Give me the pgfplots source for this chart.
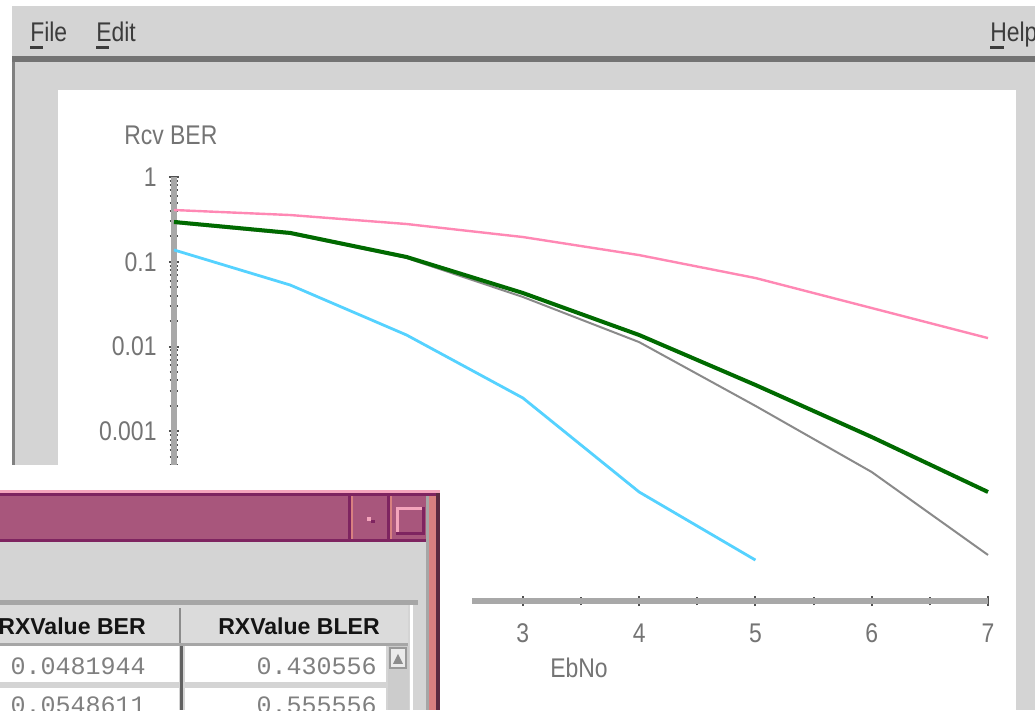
\documentclass[border=0pt]{standalone}
\usepackage{fontspec}
\usepackage{pgfplots}
\pgfplotsset{compat=1.18}
\setmainfont{Liberation Sans}
\newfontfamily\guifont[FakeStretch=0.85]{Liberation Sans}
\newfontfamily\cellfont{Liberation Mono}

\definecolor{winGray}{HTML}{D4D4D4}
\definecolor{txtGray}{HTML}{747474}
\definecolor{menuTxt}{HTML}{3C3C3C}
\definecolor{axGray}{HTML}{A8A8A8}
\definecolor{tickGray}{HTML}{505050}
\definecolor{cPink}{HTML}{FF88B4}
\definecolor{cGreen}{HTML}{006A00}
\definecolor{cGrey}{HTML}{8A8A8A}
\definecolor{cCyan}{HTML}{55D2FF}
\definecolor{titleBar}{HTML}{A8567C}
\definecolor{titleDark}{HTML}{7E2460}
\definecolor{titleLight}{HTML}{F4A4BC}
\definecolor{frameSalmon}{HTML}{D88080}
\definecolor{frameDark}{HTML}{5A2A40}

\newcommand\guisize{\guifont\fontsize{19.2}{22}\selectfont}

\begin{document}
\begin{tikzpicture}
  % main window behind the chart, in screen pixels
  \begin{scope}[x=0.25mm, y=-0.25mm, yshift=177.5mm]
    \fill[white] (0,0) rectangle (1035,710);
    \fill[winGray] (12,6) rectangle (1035,710);
    \fill[black!55] (12,56) rectangle (1035,62);
    \fill[black!50] (12,62) rectangle (15,465);
    \node[anchor=base west, font=\guisize, text=menuTxt, inner sep=0pt] at (30,42) {File};
    \node[anchor=base west, font=\guisize, text=menuTxt, inner sep=0pt] at (96,42) {Edit};
    \node[anchor=base west, font=\guisize, text=menuTxt, inner sep=0pt] at (990,42) {Help};
    \fill[menuTxt] (30,46) rectangle (43,49);
    \fill[menuTxt] (96,46) rectangle (109,49);
    \fill[menuTxt] (990,46) rectangle (1004,49);
    \fill[white] (58,90) rectangle (1016,710);
    \node[anchor=base west, font=\guisize, text=txtGray, inner sep=0pt] at (124,145) {Rcv BER};
    \node[anchor=base west, font=\guisize, text=txtGray, inner sep=0pt] at (550,678) {EbNo};
  \end{scope}

  \begin{axis}[
    at={(43.5mm,27.25mm)}, anchor=south west,
    scale only axis, width=203.5mm, height=106mm,
    xmin=0, xmax=7, ymin=1e-5, ymax=1, ymode=log,
    axis lines=left,
    axis line style={-, line width=1.3mm, axGray},
    xtick={0,1,...,7}, minor xtick={0.5,1.5,...,6.5},
    xticklabels={,,,3,4,5,6,7},
    ytick={1e-5,1e-4,1e-3,1e-2,1e-1,1},
    yticklabels={,,0.001,0.01,0.1,1},
    minor ytick={2e-5,3e-5,4e-5,5e-5,6e-5,7e-5,8e-5,9e-5,
                 2e-4,3e-4,4e-4,5e-4,6e-4,7e-4,8e-4,9e-4,
                 2e-3,3e-3,4e-3,5e-3,6e-3,7e-3,8e-3,9e-3,
                 0.02,0.03,0.04,0.05,0.06,0.07,0.08,0.09,
                 0.2,0.3,0.4,0.5,0.6,0.7,0.8,0.9},
    tick align=center,
    major tick length=2.6mm, minor tick length=2.2mm,
    tick style={tickGray, line width=0.5mm},
    /pgf/number format/assume math mode=true,
    ticklabel style={font=\guisize, text=txtGray, inner sep=0pt},
    xticklabel style={anchor=center, yshift=-6.75mm},
    yticklabel style={anchor=east, xshift=-3mm},
    clip=false,
  ]
    \addplot[cGrey, line width=0.5mm] coordinates {
      (0,0.287) (1,0.213) (2,0.111) (3,0.0385) (4,0.0113) (5,0.0020) (6,0.000332) (7,3.49e-5)};
    \addplot[cGreen, line width=1mm] coordinates {
      (0,0.295) (1,0.219) (2,0.114) (3,0.0429) (4,0.0137) (5,0.00353) (6,0.000859) (7,0.000193)};
    \addplot[cPink, line width=0.6mm] coordinates {
      (0,0.408) (1,0.356) (2,0.279) (3,0.196) (4,0.120) (5,0.0644) (6,0.0285) (7,0.0126)};
    \addplot[cCyan, line width=0.7mm] coordinates {
      (0,0.138) (1,0.0532) (2,0.0137) (3,0.00248) (4,0.000193) (5,3.04e-5)};
  \end{axis}

  % dialog window lying over the lower left part
  \begin{scope}[x=0.25mm, y=-0.25mm, yshift=177.5mm]
    \fill[white] (0,465) rectangle (472,710);
    % title bar
    \fill[titleLight] (0,490) rectangle (440,493);
    \fill[titleDark] (0,493) rectangle (440,496);
    \fill[titleBar] (0,496) rectangle (436,539);
    \fill[titleDark] (0,539) rectangle (436,542);
    \fill[titleDark] (348,496) rectangle (351,539);
    \fill[frameSalmon] (351,496) rectangle (353,539);
    \fill[titleDark] (387,496) rectangle (390,539);
    \fill[frameSalmon] (390,496) rectangle (392,539);
    \fill[titleLight] (367,517) rectangle (371,521);
    \fill[titleDark] (371,520) rectangle (375,523);
    \fill[titleLight] (396,507) rectangle (425,510);
    \fill[titleLight] (396,507) rectangle (399,535);
    \fill[titleDark] (396,532) rectangle (425,535);
    \fill[titleDark] (422,507) rectangle (425,535);
    % body and frame
    \fill[winGray] (0,542) rectangle (427,710);
    \fill[black!35] (426,496) rectangle (429,710);
    \fill[frameSalmon] (429,496) rectangle (436,710);
    \fill[frameDark] (436,493) rectangle (440,710);
    % table header
    \fill[black!35] (0,600) rectangle (418,605);
    \fill[black!14] (0,605) rectangle (408,643);
    \fill[white] (410,605) rectangle (413,710);
    \fill[black!45] (179,608) rectangle (181,643);
    \fill[black!35] (0,643) rectangle (408,646);
    \node[anchor=base east, font=\fontsize{16.4}{19}\selectfont\bfseries, text=black!92, inner sep=0pt] at (146,635) {RXValue BER};
    \node[anchor=base east, font=\fontsize{16.4}{19}\selectfont\bfseries, text=black!92, inner sep=0pt] at (380,635) {RXValue BLER};
    % cells
    \fill[white] (0,646) rectangle (179,682);
    \fill[white] (185,646) rectangle (386,682);
    \fill[white] (0,688) rectangle (179,710);
    \fill[white] (185,688) rectangle (386,710);
    \fill[black!62] (180,646) rectangle (183,710);
    \node[anchor=base east, font=\cellfont\fontsize{17.8}{20}\selectfont, text=black!50, inner sep=0pt] at (146,675) {0.0481944};
    \node[anchor=base east, font=\cellfont\fontsize{17.8}{20}\selectfont, text=black!50, inner sep=0pt] at (377,675) {0.430556};
    \node[anchor=base east, font=\cellfont\fontsize{17.8}{20}\selectfont, text=black!50, inner sep=0pt] at (146,714) {0.0548611};
    \node[anchor=base east, font=\cellfont\fontsize{17.8}{20}\selectfont, text=black!50, inner sep=0pt] at (377,714) {0.555556};
    % scroll bar
    \fill[black!20] (388,646) rectangle (409,710);
    \fill[black!8] (390,648) rectangle (406,668);
    \draw[black!40, line width=0.5mm] (390,648) rectangle (406,668);
    \fill[black!45] (393,664) -- (403,664) -- (398,654) -- cycle;
  \end{scope}
  \pgfresetboundingbox
  \path[use as bounding box] (0,0) rectangle (258.75mm,177.5mm);
\end{tikzpicture}
\end{document}
